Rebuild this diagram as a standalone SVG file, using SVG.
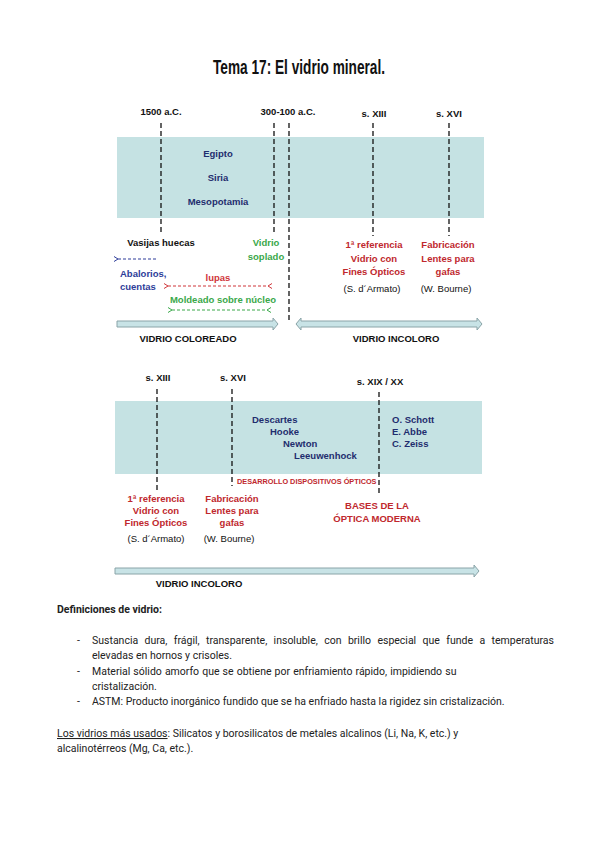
<svg xmlns="http://www.w3.org/2000/svg" width="600" height="848" viewBox="0 0 600 848">
<defs>
<style>
.lbl{font-family:"Liberation Sans",Arial,sans-serif;font-size:9.5px;font-weight:bold;fill:#111;text-anchor:middle}
.nv{font-family:"Liberation Sans",Arial,sans-serif;font-size:9.5px;font-weight:bold;fill:#1f2d6e}
.red{font-family:"Liberation Sans",Arial,sans-serif;font-size:9.5px;font-weight:bold;fill:#c0282d;text-anchor:middle}
.grn{font-family:"Liberation Sans",Arial,sans-serif;font-size:9.5px;font-weight:bold;fill:#3aa84a;text-anchor:middle}
.reg{font-family:"Liberation Sans",Arial,sans-serif;font-size:9.5px;fill:#111;text-anchor:middle}
.body{font-family:Roboto,"Liberation Sans",sans-serif;font-size:10.5px;fill:#222}
.band{fill:#c5e2e3}
.dash{stroke:#111;stroke-width:1.3;stroke-dasharray:5 3;fill:none}
.big{fill:#c8e3e6;stroke:#8aa4a8;stroke-width:1}
</style>
<marker id="hb" markerWidth="6" markerHeight="6" refX="1" refY="3" orient="auto-start-reverse" markerUnits="userSpaceOnUse"><path d="M5,0.5 L1,3 L5,5.5" fill="none" stroke="#2e3d99" stroke-width="1"/></marker>
<marker id="hr" markerWidth="6" markerHeight="6" refX="1" refY="3" orient="auto-start-reverse" markerUnits="userSpaceOnUse"><path d="M5,0.5 L1,3 L5,5.5" fill="none" stroke="#d0363a" stroke-width="1"/></marker>
<marker id="hg" markerWidth="6" markerHeight="6" refX="1" refY="3" orient="auto-start-reverse" markerUnits="userSpaceOnUse"><path d="M5,0.5 L1,3 L5,5.5" fill="none" stroke="#3aa84a" stroke-width="1"/></marker>
</defs>
<rect width="600" height="848" fill="#fff"/>

<g id="title"><text x="213" y="74" textLength="172" lengthAdjust="spacingAndGlyphs" font-family="'Liberation Sans Narrow','Liberation Sans',sans-serif" font-size="20" font-weight="bold" fill="#111">Tema 17: El vidrio mineral.</text></g>

<g id="bands">
<rect class="band" x="117" y="137" width="367" height="81"/>
<rect class="band" x="115" y="401" width="367" height="73"/>
</g>

<g id="connectors">
<line class="dash" x1="161" y1="123" x2="161" y2="233"/>
<line class="dash" x1="274" y1="123" x2="274" y2="233"/>
<line class="dash" x1="289" y1="123" x2="289" y2="320"/>
<line class="dash" x1="373" y1="123" x2="373" y2="236"/>
<line class="dash" x1="449" y1="123" x2="449" y2="236"/>
<line class="dash" x1="157" y1="389" x2="157" y2="491"/>
<line class="dash" x1="232" y1="389" x2="232" y2="486"/>
<line class="dash" x1="379" y1="392" x2="379" y2="493"/>
<line x1="118" y1="259" x2="158" y2="259" stroke="#2e3d99" stroke-width="1.2" stroke-dasharray="3 2" marker-start="url(#hb)"/>
<line x1="168" y1="286" x2="268" y2="286" stroke="#d0363a" stroke-width="1.2" stroke-dasharray="3 2" marker-start="url(#hr)" marker-end="url(#hr)"/>
<line x1="172" y1="310" x2="267" y2="310" stroke="#3aa84a" stroke-width="1.2" stroke-dasharray="3 2" marker-start="url(#hg)" marker-end="url(#hg)"/>
<polygon class="big" points="117,321 273,321 273,318 278,324 273,330 273,327 117,327"/>
<polygon class="big" points="296,324 301,318 301,321 477,321 477,318 482,324 477,330 477,327 301,327 301,330"/>
<polygon class="big" points="115,568 474,568 474,565 479,571 474,577 474,574 115,574"/>
</g>

<g id="top-dates">
<text class="lbl" x="161" y="115">1500 a.C.</text>
<text class="lbl" x="288" y="115">300-100 a.C.</text>
<text class="lbl" x="374" y="117">s. XIII</text>
<text class="lbl" x="449" y="117">s. XVI</text>
</g>

<g id="regions">
<text class="nv" x="218" y="157" text-anchor="middle">Egipto</text>
<text class="nv" x="218" y="181" text-anchor="middle">Siria</text>
<text class="nv" x="218" y="205" text-anchor="middle">Mesopotamia</text>
</g>

<g id="vasijas"><text class="lbl" x="161" y="246">Vasijas huecas</text></g>
<g id="soplado"><text class="grn" x="266" y="246">Vidrio</text><text class="grn" x="266" y="260">soplado</text></g>
<g id="abalorios"><text x="120" y="277" font-family="'Liberation Sans',Arial,sans-serif" font-size="9.5" font-weight="bold" fill="#2e3d99">Abalorios,</text><text x="120" y="290" font-family="'Liberation Sans',Arial,sans-serif" font-size="9.5" font-weight="bold" fill="#2e3d99">cuentas</text></g>
<g id="lupas"><text class="red" x="218" y="281" style="fill:#d0363a">lupas</text></g>
<g id="moldeado"><text class="grn" x="223" y="303">Moldeado sobre núcleo</text></g>
<g id="ref1"><text class="red" x="374" y="248">1ª referencia</text><text class="red" x="374" y="262">Vidrio con</text><text class="red" x="374" y="275">Fines Ópticos</text><text class="reg" x="372" y="292">(S. d´Armato)</text></g>
<g id="fab1"><text class="red" x="448" y="248">Fabricación</text><text class="red" x="448" y="262">Lentes para</text><text class="red" x="448" y="275">gafas</text><text class="reg" x="446" y="292">(W. Bourne)</text></g>
<g id="coloreado"><text class="lbl" x="188" y="342">VIDRIO COLOREADO</text></g>
<g id="incoloro1"><text class="lbl" x="396" y="342">VIDRIO INCOLORO</text></g>

<g id="bottom-dates">
<text class="lbl" x="158" y="381">s. XIII</text>
<text class="lbl" x="233" y="381">s. XVI</text>
<text class="lbl" x="380" y="385">s. XIX / XX</text>
</g>
<g id="scientists">
<text class="nv" x="252" y="423">Descartes</text>
<text class="nv" x="270" y="435">Hooke</text>
<text class="nv" x="283" y="447">Newton</text>
<text class="nv" x="294" y="459">Leeuwenhock</text>
</g>
<g id="makers">
<text class="nv" x="392" y="423">O. Schott</text>
<text class="nv" x="392" y="435">E. Abbe</text>
<text class="nv" x="392" y="447">C. Zeiss</text>
</g>
<g id="desarrollo"><text x="237" y="484" font-family="'Liberation Sans',Arial,sans-serif" font-size="7.3" font-weight="bold" fill="#c0282d">DESARROLLO DISPOSITIVOS ÓPTICOS</text></g>
<g id="bases"><text class="red" x="377" y="509">BASES DE LA</text><text class="red" x="377" y="522">ÓPTICA MODERNA</text></g>
<g id="ref2"><text class="red" x="156" y="502">1ª referencia</text><text class="red" x="156" y="514">Vidrio con</text><text class="red" x="156" y="526">Fines Ópticos</text><text class="reg" x="156" y="542">(S. d´Armato)</text></g>
<g id="fab2"><text class="red" x="232" y="502">Fabricación</text><text class="red" x="232" y="514">Lentes para</text><text class="red" x="232" y="526">gafas</text><text class="reg" x="229" y="542">(W. Bourne)</text></g>
<g id="incoloro2"><text class="lbl" x="199" y="587">VIDRIO INCOLORO</text></g>

<g id="definitions">
<text class="body" x="57" y="613" font-weight="bold">Definiciones de vidrio:</text>
<text class="body" x="77" y="644">-</text>
<text class="body" x="92" y="644" word-spacing="3.8">Sustancia dura, frágil, transparente, insoluble, con brillo especial que funde a temperaturas</text>
<text class="body" x="92" y="659">elevadas en hornos y crisoles.</text>
<text class="body" x="77" y="675">-</text>
<text class="body" x="92" y="675" word-spacing="0.5">Material sólido amorfo que se obtiene por enfriamiento rápido, impidiendo su</text>
<text class="body" x="92" y="690">cristalización.</text>
<text class="body" x="77" y="705">-</text>
<text class="body" x="92" y="705">ASTM: Producto inorgánico fundido que se ha enfriado hasta la rigidez sin cristalización.</text>
<text class="body" x="57" y="737"><tspan text-decoration="underline">Los vidrios más usados</tspan>: Silicatos y borosilicatos de metales alcalinos (Li, Na, K, etc.) y</text>
<text class="body" x="57" y="752">alcalinotérreos (Mg, Ca, etc.).</text>
</g>
</svg>
